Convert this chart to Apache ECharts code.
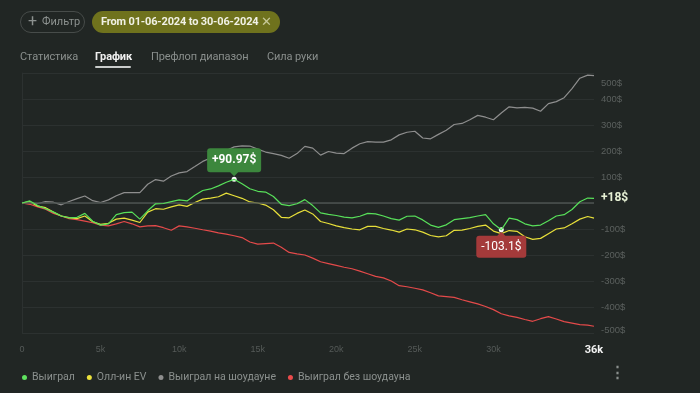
<!DOCTYPE html>
<html><head><meta charset="utf-8">
<script src="https://cdn.jsdelivr.net/npm/echarts@6/dist/echarts.min.js"></script>
<style>
html,body{margin:0;padding:0;background:#212624;width:700px;height:393px;overflow:hidden;font-family:Roboto,"Noto Sans",sans-serif;}
#chart{position:absolute;left:0;top:0;width:700px;height:393px;}
.btn{position:absolute;left:20px;top:11px;width:63px;height:20px;border:1px solid #474c4a;border-radius:11px;color:#8c918f;font-size:11px;line-height:20px;box-sizing:content-box;}
.btn span{position:absolute;left:7px;top:-1px;font-size:16px;}
.btn b{position:absolute;left:21px;font-weight:normal;}
.pill{position:absolute;left:92px;top:11px;width:188px;height:22px;background:#6f721d;border-radius:11px;color:#f1f1e6;font-size:11px;font-weight:bold;line-height:22px;letter-spacing:-0.15px;}
.pill .t{position:absolute;left:9px;}
.pill .x{position:absolute;left:169px;top:0;font-weight:normal;color:#c7c99a;font-size:13px;}
.tab{position:absolute;top:50px;font-size:11px;color:#8a8f8d;letter-spacing:-0.1px;}
.tab.act{color:#f0f0f0;font-weight:bold;}
.ul{position:absolute;left:95px;top:66px;width:36px;height:2px;background:#c9cccb;border-radius:1px;}
.dots{position:absolute;left:610px;top:363px;color:#8a8f8d;font-size:15px;font-weight:bold;}
</style></head>
<body>
<div id="chart"></div>
<div class="btn"><span>+</span><b>Фильтр</b></div>
<div class="pill"><span class="t">From 01-06-2024 to 30-06-2024</span><span class="x">✕</span></div>
<div class="tab" style="left:20px">Статистика</div>
<div class="tab act" style="left:95px">График</div>
<div class="tab" style="left:151px">Префлоп диапазон</div>
<div class="tab" style="left:267px">Сила руки</div>
<div class="ul"></div>
<div class="dots">⋮</div>
<script>
// hands, in thousands
const hands = [0,0.5,1,1.5,2,2.5,3,3.5,4,4.5,5,5.5,6,6.5,7,7.5,8,8.5,9,9.5,10,10.5,11,11.5,12,12.5,13,13.5,14,14.5,15,15.5,16,16.5,17,17.5,18,18.5,19,19.5,20,20.5,21,21.5,22,22.5,23,23.5,24,24.5,25,25.5,26,26.5,27,27.5,28,28.5,29,29.5,30,30.5,31,31.5,32,32.5,33,33.5,34,34.5,35,35.5,36,36.4];
const won = [0,8,-10,-22,-35,-50,-57,-55,-40,-70,-85,-80,-45,-37,-35,-62,-30,-3,-2,5,12,8,30,48,54,66,80,90.97,74,55,45,42,25,-5,-10,-3,13,-10,-38,-44,-48,-54,-57,-51,-40,-42,-50,-60,-66,-51,-50,-65,-85,-94,-84,-64,-60,-56,-50,-45,-80,-103.1,-58,-64,-80,-88,-85,-68,-50,-45,-25,5,19,18];
const allinEV = [0,5,-12,-18,-35,-50,-56,-60,-50,-72,-82,-78,-62,-58,-66,-75,-35,-22,-24,-15,-7,-13,2,15,19,24,38,28,18,4,0,-8,-26,-55,-57,-40,-27,-42,-71,-79,-88,-95,-100,-103,-90,-90,-98,-104,-112,-100,-103,-112,-125,-130,-126,-105,-104,-98,-90,-85,-108,-118,-106,-109,-130,-140,-136,-118,-100,-96,-80,-62,-52,-58];
const showdown = [0,0,-2,5,3,-7,6,17,27,9,2,12,28,40,40,40,72,90,84,104,116,121,140,160,173,189,202,216,220,219,207,196,190,183,172,190,218,211,184,198,192,190,211,228,236,234,234,243,262,272,276,250,247,264,280,302,306,320,337,330,320,346,370,366,368,365,353,382,390,405,440,480,492,490];
const nonShowdown = [0,-5,-15,-24,-40,-50,-60,-64,-70,-76,-85,-88,-80,-71,-80,-92,-88,-87,-95,-105,-88,-92,-97,-103,-108,-115,-120,-126,-133,-150,-158,-156,-154,-170,-190,-196,-200,-212,-226,-233,-240,-247,-253,-262,-272,-282,-288,-300,-318,-322,-328,-334,-345,-357,-360,-363,-372,-380,-388,-398,-410,-426,-434,-440,-448,-455,-445,-437,-446,-456,-462,-468,-470,-474];
const seriesNames = ['Выиграл','Олл-ин EV','Выиграл на шоудауне','Выиграл без шоудауна'];
const yTicks = [-500,-400,-300,-200,-100,0,100,200,300,400,500];

const pairs = arr => hands.map((h,i)=>[h, arr[i]]);
const fmtMoney = v => (v>0?'+':'') + v + '$';

const chart = echarts.init(document.getElementById('chart'), null, {renderer:'canvas'});
const lineBase = {type:'line', showSymbol:false, symbol:'none', smooth:false, silent:true};
chart.setOption({
  animation:false,
  backgroundColor:'#212624',
  grid:{left:22, right:106, top:73, bottom:60, containLabel:false},
  legend:{
    left:17, top:367, icon:'circle', itemWidth:5, itemHeight:5, itemGap:12,
    textStyle:{color:'#8b908e', fontSize:10.5, fontFamily:'Roboto'},
    data:seriesNames
  },
  xAxis:{
    type:'value', min:0, max:hands[hands.length-1], interval:5,
    axisLine:{show:false}, axisTick:{show:false}, splitLine:{show:false},
    axisLabel:{
      color:'#555a58', fontSize:9, margin:12, showMaxLabel:true, showMinLabel:true,
      formatter:v=>{
        if (Math.abs(v-hands[hands.length-1])<1e-6) return '{b|36k}';
        if (v===35) return '';
        return v===0?'0':v+'k';
      },
      rich:{b:{color:'#f2f2f2', fontWeight:'bold', fontSize:11, fontFamily:'Roboto'}}
    }
  },
  yAxis:{
    type:'value', position:'right', min:yTicks[0], max:yTicks[yTicks.length-1], interval:100,
    axisLine:{show:true, lineStyle:{color:'#2c3130'}}, axisTick:{show:false},
    splitLine:{lineStyle:{color:'#2c3130', width:1}},
    axisLabel:{
      color:'#5b605e', fontSize:9.5, margin:7,
      formatter:v=>{
        if (v===0) return '';
        if (v===500) return '{t|'+v+'$}';
        if (v===-500) return '{bt|'+v+'$}';
        return v+'$';
      },
      rich:{t:{padding:[20,0,0,0], color:'#5b605e', fontSize:9.5}, bt:{padding:[0,0,6,0], color:'#5b605e', fontSize:9.5}}
    }
  },
  series:[
    Object.assign({}, lineBase, {
      name:seriesNames[2], data:pairs(showdown), z:2,
      itemStyle:{color:'#8e8e8e'}, lineStyle:{color:'#8e8e8e', width:1.2},
      markLine:{silent:true, symbol:'none', label:{show:false}, lineStyle:{color:'#4d5351', width:1.5, type:'solid'}, data:[{yAxis:0}]}
    }),
    Object.assign({}, lineBase, {
      name:seriesNames[3], data:pairs(nonShowdown), z:3,
      itemStyle:{color:'#ea4b4b'}, lineStyle:{color:'#e44a4a', width:1.2}
    }),
    Object.assign({}, lineBase, {
      name:seriesNames[1], data:pairs(allinEV), z:4,
      itemStyle:{color:'#ece23c'}, lineStyle:{color:'#e8e03a', width:1.2}
    }),
    Object.assign({}, lineBase, {
      name:seriesNames[0], data:pairs(won), z:5,
      itemStyle:{color:'#5fe35f'}, lineStyle:{color:'#58e05a', width:1.2},
      endLabel:{show:true, distance:7, color:'#e6f0d4', fontWeight:'bold', fontSize:12, fontFamily:'Roboto',
        formatter:p=>fmtMoney(p.value[1])},
      markPoint:{
        silent:true, animation:false,
        data:[
          {type:'max', valueDim:'y', symbol:'path://M3,0L51,0Q54,0 54,3L54,21Q54,24 51,24L31,24L27,28L23,24L3,24Q0,24 0,21L0,3Q0,0 3,0Z',
            symbolSize:[54,28], symbolOffset:[0,-17], symbolKeepAspect:false,
            itemStyle:{color:'#3c873d'},
            label:{show:true, position:'inside', offset:[0,-2], color:'#ffffff', fontWeight:'bold', fontSize:12, fontFamily:'Roboto', formatter:p=>fmtMoney(p.value)}},
          {type:'max', valueDim:'y', symbol:'circle', symbolSize:5, itemStyle:{color:'#ffffff'}, label:{show:false}},
          {type:'min', valueDim:'y', symbol:'path://M25,0L29,4L47,4Q50,4 50,7L50,23Q50,26 47,26L3,26Q0,26 0,23L0,7Q0,4 3,4L21,4Z',
            symbolSize:[50,26], symbolOffset:[0,15], symbolKeepAspect:false,
            itemStyle:{color:'#a43a3a'},
            label:{show:true, position:'inside', offset:[0,2], color:'#ffffff', fontSize:12, fontFamily:'Roboto', formatter:p=>fmtMoney(p.value)}},
          {type:'min', valueDim:'y', symbol:'circle', symbolSize:5, itemStyle:{color:'#ffffff'}, label:{show:false}}
        ]
      }
    })
  ]
});
</script>
</body></html>
